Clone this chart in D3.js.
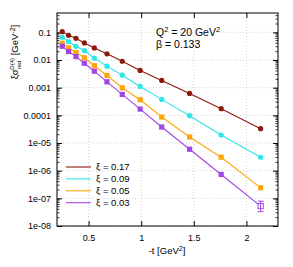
<!DOCTYPE html>
<style>
body { margin: 0; background: #fff; }
text { font-family: "Liberation Sans", Arial, sans-serif; fill: #000; }
</style>
<body>
<script src="https://cdn.jsdelivr.net/npm/d3@7"></script>
<script>

var tValues = [0.25, 0.31, 0.38, 0.46, 0.555, 0.675, 0.82, 0.99, 1.195, 1.46, 1.76, 2.135];

var xi017 = [0.106, 0.078, 0.061, 0.0415, 0.0274, 0.0167, 0.0090, 0.0042, 0.00182, 6.2e-4, 1.74e-4, 3.3e-5];
var xi009 = [0.066, 0.046, 0.0313, 0.0219, 0.0116, 0.0060, 0.00282, 0.00111, 3.77e-4, 9.7e-5, 1.95e-5, 3.06e-6];
var xi005 = [0.040, 0.0274, 0.0186, 0.012, 0.0062, 0.00276, 9.9e-4, 3.67e-4, 8.7e-5, 1.65e-5, 3.06e-6, 2.4e-7];
var xi003 = [0.0313, 0.0202, 0.0133, 0.0076, 0.00394, 0.00163, 5.7e-4, 1.68e-4, 3.78e-5, 5.96e-6, 7.3e-7, 5.25e-8];

// error on the last xi = 0.03 point (low, high)
var xi003LastErr = [3.3e-8, 7.9e-8];

var seriesNames = ["ξ = 0.17", "ξ = 0.09", "ξ = 0.05", "ξ = 0.03"];
var xTicks = [0.5, 1, 1.5, 2];
var yTicks = [0.1, 0.01, 0.001, 0.0001, 1e-5, 1e-6, 1e-7, 1e-8];
var yTickLabels = ["0.1", "0.01", "0.001", "0.0001", "1e-05", "1e-06", "1e-07", "1e-08"];

var series = [
  {name: seriesNames[0], values: xi017, color: "#8c1a0c", shape: "circle"},
  {name: seriesNames[1], values: xi009, color: "#2ee6e6", shape: "circle"},
  {name: seriesNames[2], values: xi005, color: "#ffa50a", shape: "square"},
  {name: seriesNames[3], values: xi003, color: "#a046e6", shape: "square"}
];

var width = 293,
    height = 267,
    margin = {top: 13, right: 15, bottom: 41, left: 57};

var svg = d3.select("body").append("svg")
    .attr("width", width)
    .attr("height", height);

var x = d3.scaleLinear()
    .domain([0.2, 2.3])
    .range([margin.left, width - margin.right]);

var y = d3.scaleLog()
    .domain([1e-8, 0.5])
    .range([height - margin.bottom, margin.top]);

// grid
svg.append("g").selectAll("line")
    .data(xTicks)
  .enter().append("line")
    .attr("x1", x).attr("x2", x)
    .attr("y1", y.range()[0]).attr("y2", y.range()[1])
    .attr("stroke", "#c8c8c8")
    .attr("stroke-width", 0.8)
    .attr("stroke-dasharray", "1,2");

svg.append("g").selectAll("line")
    .data(yTicks)
  .enter().append("line")
    .attr("y1", y).attr("y2", y)
    .attr("x1", x.range()[0]).attr("x2", x.range()[1])
    .attr("stroke", "#c8c8c8")
    .attr("stroke-width", 0.8)
    .attr("stroke-dasharray", "1,2");

// axes, ticks pointing inward
var x0 = x.range()[0], x1 = x.range()[1], y0 = y.range()[0], y1 = y.range()[1];

svg.append("g")
    .attr("transform", "translate(0," + y0 + ")")
    .call(d3.axisBottom(x).tickValues(xTicks).tickSizeInner(-5).tickSizeOuter(0).tickFormat(d3.format("")))
    .call(function(g) {
      g.select(".domain").remove();
      g.selectAll("text").attr("dy", "0.95em").attr("y", 6).style("font-size", "9px").style("font-family", "Liberation Sans, Arial, sans-serif");
    });

svg.append("g")
    .attr("transform", "translate(0," + y1 + ")")
    .call(d3.axisTop(x).tickValues(xTicks).tickSizeInner(-5).tickSizeOuter(0).tickFormat(""))
    .call(function(g) { g.select(".domain").remove(); });

var minor = [];
yTicks.forEach(function(d) {
  for (var k = 2; k <= 9; k++) if (d * k < 0.5) minor.push(d * k);
});

svg.append("g")
    .attr("transform", "translate(" + x0 + ",0)")
    .call(d3.axisLeft(y).tickValues(yTicks).tickSizeInner(-5).tickSizeOuter(0)
      .tickFormat(function(d, i) { return yTickLabels[i]; }))
    .call(function(g) {
      g.select(".domain").remove();
      g.selectAll("text").attr("x", -6).style("font-size", "9px").style("font-family", "Liberation Sans, Arial, sans-serif");
    });

svg.append("g")
    .attr("transform", "translate(" + x1 + ",0)")
    .call(d3.axisRight(y).tickValues(yTicks).tickSizeInner(-5).tickSizeOuter(0).tickFormat(""))
    .call(function(g) { g.select(".domain").remove(); });

[x0, x1].forEach(function(xx) {
  var dir = xx === x0 ? 1 : -1;
  svg.append("g").selectAll("line")
      .data(minor)
    .enter().append("line")
      .attr("x1", xx).attr("x2", xx + dir * 2.5)
      .attr("y1", y).attr("y2", y)
      .attr("stroke", "#000")
      .attr("stroke-width", 0.8);
});

svg.append("rect")
    .attr("x", x0).attr("y", y1)
    .attr("width", x1 - x0).attr("height", y0 - y1)
    .attr("fill", "none")
    .attr("stroke", "#000")
    .attr("stroke-width", 1);

// series
var line = d3.line()
    .x(function(d, i) { return x(tValues[i]); })
    .y(function(d) { return y(d); });

series.forEach(function(s, si) {
  svg.append("path")
      .attr("d", line(s.values))
      .attr("fill", "none")
      .attr("stroke", s.color)
      .attr("stroke-width", 1.1);

  var last = s.values.length - 1;
  var pts = svg.append("g").selectAll(".pt")
      .data(s.values)
    .enter();

  if (s.shape === "circle") {
    pts.append("circle")
        .attr("cx", function(d, i) { return x(tValues[i]); })
        .attr("cy", y)
        .attr("r", 2.6)
        .attr("fill", s.color);
  } else {
    pts.append("rect")
        .attr("x", function(d, i) { return x(tValues[i]) - 2.6; })
        .attr("y", function(d) { return y(d) - 2.6; })
        .attr("width", 5.2).attr("height", 5.2)
        .attr("fill", function(d, i) { return (si === 3 && i === last) ? "#fff" : s.color; })
        .attr("stroke", s.color)
        .attr("stroke-width", function(d, i) { return (si === 3 && i === last) ? 1 : 0; });
  }
});

// error bar on last xi = 0.03 point
var ex = x(tValues[tValues.length - 1]);
var eb = svg.append("g").attr("stroke", series[3].color).attr("stroke-width", 1);
eb.append("line").attr("x1", ex).attr("x2", ex).attr("y1", y(xi003LastErr[0])).attr("y2", y(xi003LastErr[1]));
eb.append("line").attr("x1", ex - 3).attr("x2", ex + 3).attr("y1", y(xi003LastErr[0])).attr("y2", y(xi003LastErr[0]));
eb.append("line").attr("x1", ex - 3).attr("x2", ex + 3).attr("y1", y(xi003LastErr[1])).attr("y2", y(xi003LastErr[1]));

// legend
var legend = svg.append("g").selectAll("g")
    .data(series)
  .enter().append("g")
    .attr("transform", function(d, i) { return "translate(66," + (167 + i * 11.9) + ")"; });

legend.append("line")
    .attr("x1", 0).attr("x2", 25)
    .attr("stroke", function(d) { return d.color; })
    .attr("stroke-width", 1.1);

legend.append("text")
    .attr("x", 30)
    .attr("dy", "0.35em")
    .style("font-size", "9.5px")
    .text(function(d) { return d.name; });

// annotation
var ann = svg.append("text")
    .attr("x", 156).attr("y", 36)
    .style("font-size", "10.5px");
ann.append("tspan").text("Q");
ann.append("tspan").attr("dy", -4).style("font-size", "7.5px").text("2");
ann.append("tspan").attr("dy", 4).text(" = 20 GeV");
ann.append("tspan").attr("dy", -4).style("font-size", "7.5px").text("2");

svg.append("text")
    .attr("x", 156).attr("y", 48)
    .style("font-size", "10.5px")
    .text("β = 0.133");

// axis labels
var xl = svg.append("text")
    .attr("x", 167).attr("y", 254)
    .attr("text-anchor", "middle")
    .style("font-size", "9.5px");
xl.append("tspan").text("-t [GeV");
xl.append("tspan").attr("dy", -3.5).style("font-size", "7px").text("2");
xl.append("tspan").attr("dy", 3.5).text("]");

var yl = svg.append("text")
    .attr("transform", "translate(18,52) rotate(-90)")
    .attr("text-anchor", "middle")
    .style("font-size", "9.5px");
yl.append("tspan").text("ξσ");
yl.append("tspan").attr("dy", 2.5).style("font-size", "6px").text("red");
yl.append("tspan").attr("dx", -9).attr("dy", -7).style("font-size", "6px").text("D(4)");
yl.append("tspan").attr("dy", 4.5).text(" [GeV");
yl.append("tspan").attr("dy", -3.5).style("font-size", "7px").text("-2");
yl.append("tspan").attr("dy", 3.5).text("]");

</script>
